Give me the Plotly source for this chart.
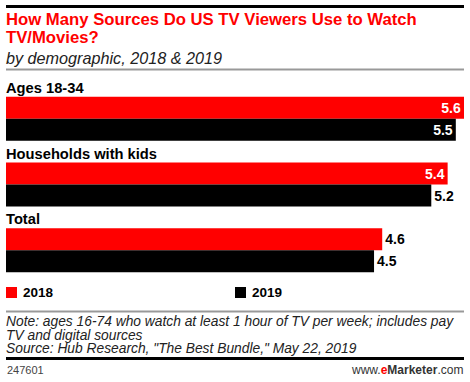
import plotly.graph_objects as go

categories = ["Ages 18-34", "Households with kids", "Total"]
values_2018 = [5.6, 5.4, 4.6]
values_2019 = [5.5, 5.2, 4.5]
series_names = ["2018", "2019"]

title_lines = ["How Many Sources Do US TV Viewers Use to Watch", "TV/Movies?"]
subtitle = "by demographic, 2018 &amp; 2019"
note_lines = [
    "Note: ages 16-74 who watch at least 1 hour of TV per week; includes pay",
    "TV and digital sources",
    "Source: Hub Research, \"The Best Bundle,\" May 22, 2019",
]
chart_id = "247601"

RED = "#ff0000"
BLACK = "#000000"
FONT = "Liberation Sans, Arial, sans-serif"

W, H = 470, 382
PLOT_L, PLOT_R, PLOT_T, PLOT_B = 6, 464, 86, 283


def py(p):
    return 1 - p / H


def px(p):
    return p / W


idx = list(range(len(categories)))


def positions(vals, threshold=5.3):
    return ["inside" if v >= threshold else "outside" for v in vals]


fig = go.Figure()
for name, vals, color in [(series_names[0], values_2018, RED), (series_names[1], values_2019, BLACK)]:
    fig.add_trace(go.Bar(
        y=idx, x=vals, name=name, orientation="h",
        marker=dict(color=color, line=dict(width=0)),
        texttemplate="%{x:.1f}",
        textposition=positions(vals),
        insidetextanchor="end",
        insidetextfont=dict(color="white", size=14, family=FONT, weight="bold"),
        outsidetextfont=dict(color="black", size=14, family=FONT, weight="bold"),
        textangle=0,
        cliponaxis=False,
        showlegend=False,
        hoverinfo="skip",
    ))

# page-frame rules drawn on a full-page helper axis (pixel coordinates)
rules = [(6.5, 3, "black"), (69.5, 2, "#999999"), (311.5, 2, "#999999"), (358.5, 3, "black")]
for yp, h, color in rules:
    fig.add_trace(go.Scatter(
        x=[PLOT_L, PLOT_R], y=[yp, yp], mode="lines",
        line=dict(color=color, width=h), xaxis="x2", yaxis="y2",
        showlegend=False, hoverinfo="skip", cliponaxis=False,
    ))

fig.update_layout(
    width=W, height=H,
    margin=dict(l=0, r=0, t=0, b=0, pad=0),
    paper_bgcolor="white", plot_bgcolor="rgba(0,0,0,0)",
    barmode="group", bargap=0.33, bargroupgap=0,
    font=dict(family=FONT, color="black"),
    xaxis=dict(range=[0, 5.6], visible=False, fixedrange=True,
               domain=[px(PLOT_L), px(PLOT_R)]),
    yaxis=dict(range=[2.5, -0.5], visible=False, fixedrange=True,
               domain=[py(PLOT_B), py(PLOT_T)]),
    xaxis2=dict(range=[0, W], visible=False, fixedrange=True, domain=[0, 1], anchor="y2"),
    yaxis2=dict(range=[H, 0], visible=False, fixedrange=True, domain=[0, 1], anchor="x2"),
)

annotations = []


def text_at(x, y, text, size, color, anchor="left"):
    annotations.append(dict(x=px(x), y=py(y), xref="paper", yref="paper", text=text,
                            showarrow=False, xanchor=anchor, yanchor="middle", align=anchor,
                            borderpad=0, font=dict(size=size, color=color, family=FONT)))


# category labels
for i, c in enumerate(categories):
    annotations.append(dict(x=px(PLOT_L), y=i - 0.47, xref="paper", yref="y", text=f"<b>{c}</b>",
                            showarrow=False, xanchor="left", yanchor="middle", borderpad=0,
                            xshift=-1, font=dict(size=14.7, color="black", family=FONT)))

# title and subtitle
for j, line in enumerate(title_lines):
    text_at(5, 20 + 17.5 * j, f"<b>{line}</b>", 16.7, RED)
text_at(5, 58, f"<i>{subtitle}</i>", 16.2, "#222222")

# legend
legend_items = [(series_names[0], RED, 6), (series_names[1], BLACK, 235)]
shapes = []
for name, color, x0 in legend_items:
    shapes.append(dict(type="rect", xref="paper", yref="paper",
                       x0=px(x0), x1=px(x0 + 11), y0=py(298), y1=py(287),
                       fillcolor=color, line=dict(width=0)))
    text_at(x0 + 16, 292.5, f"<b>{name}</b>", 13.5, "black")

# note / source
for j, line in enumerate(note_lines):
    text_at(5, 321.5 + 13.5 * j, f"<i>{line}</i>", 13.8, "#222222")

# footer
text_at(6, 370, chart_id, 11, "#444444")
text_at(464, 370, "www.<b><span style='color:#ff0000'>e</span>Marketer</b>.com", 12, "#333333", anchor="right")

fig.update_layout(annotations=annotations, shapes=shapes)
fig.write_html("out.html", config={"displayModeBar": False},
               post_script="document.body.style.margin='0';document.body.style.padding='0';document.documentElement.style.overflow='hidden';")
